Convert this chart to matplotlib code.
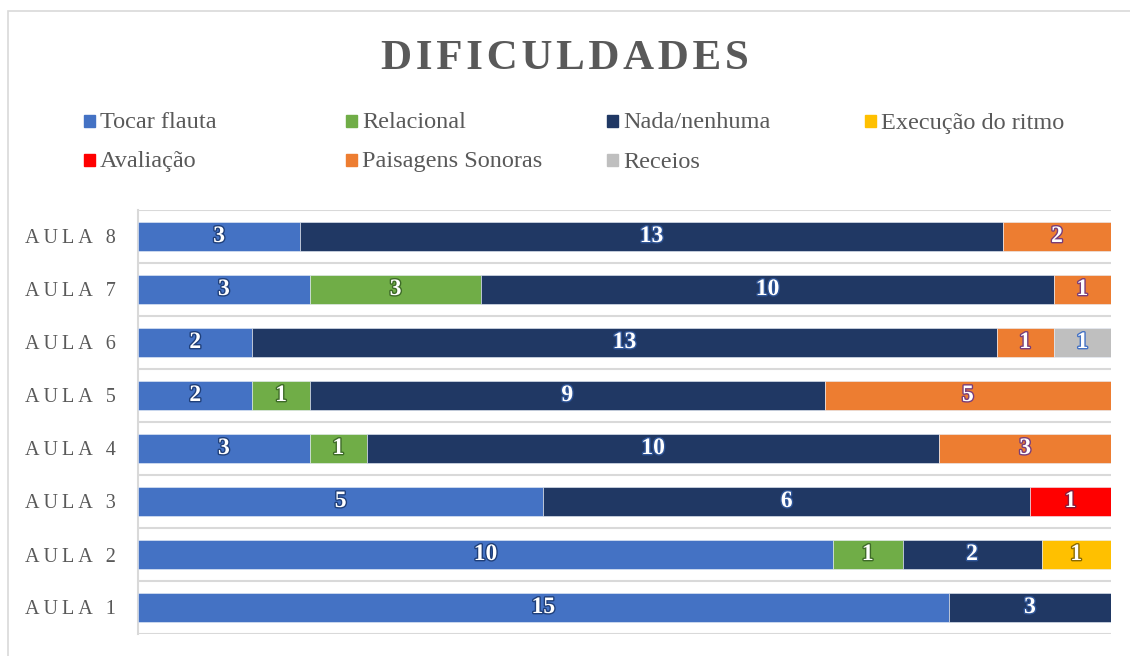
import matplotlib
matplotlib.use("Agg")
from matplotlib import pyplot as plt
from matplotlib.patches import Rectangle
import matplotlib.patheffects as pe
import numpy as np

# categorias (de baixo para cima)
aulas = ["AULA 1", "AULA 2", "AULA 3", "AULA 4", "AULA 5", "AULA 6", "AULA 7", "AULA 8"]

# series
tocar_flauta = [15, 10, 5, 3, 2, 2, 3, 3]
relacional = [0, 1, 0, 1, 1, 0, 3, 0]
nada_nenhuma = [3, 2, 6, 10, 9, 13, 10, 13]
execucao_ritmo = [0, 1, 0, 0, 0, 0, 0, 0]
avaliacao = [0, 0, 1, 0, 0, 0, 0, 0]
paisagens = [0, 0, 0, 3, 5, 1, 1, 2]
receios = [0, 0, 0, 0, 0, 1, 0, 0]

nomes = ["Tocar flauta", "Relacional", "Nada/nenhuma", "Execução do ritmo",
         "Avaliação", "Paisagens Sonoras", "Receios"]
cores = ["#4472C4", "#70AD47", "#203864", "#FFC000", "#FF0000", "#ED7D31", "#BFBFBF"]
contornos = ["#1F3F7A", "#3E6B28", "#2F5597", "#8A6A00", "#8B1A3A", "#7A3E7A", "#4472C4"]

series = [tocar_flauta, relacional, nada_nenhuma, execucao_ritmo, avaliacao, paisagens, receios]
dados = np.array(series, dtype=float)
totais = dados.sum(axis=0)
pct = dados / totais

serif = "Liberation Serif"

fig = plt.figure(figsize=(11.3, 6.56), dpi=100)
ax = fig.add_axes([138 / 1130, 1 - 634 / 656, (1111 - 138) / 1130, (634 - 210) / 656])

y = np.arange(len(aulas))
esquerda = np.zeros(len(aulas))
for i, nome in enumerate(nomes):
    ax.barh(y, pct[i], left=esquerda, height=0.56, color=cores[i],
            edgecolor="#E8EEF8", linewidth=0.4, zorder=3)
    for j in range(len(aulas)):
        v = dados[i][j]
        if v > 0:
            ax.text(esquerda[j] + pct[i][j] / 2, y[j], str(int(v)), ha="center", va="center",
                    color="white", fontsize=17, fontweight="bold", family=serif, zorder=4,
                    path_effects=[pe.withStroke(linewidth=2, foreground=contornos[i])])
    esquerda += pct[i]

ax.set_xlim(0, 1)
ax.set_ylim(-0.5, len(aulas) - 0.5)
ax.set_xticks([])
ax.set_yticks(y)
ax.set_yticklabels(["\u2009".join(a) for a in aulas], family=serif, fontsize=14.5, color="#595959")
ax.tick_params(axis="y", length=0, pad=16)
for b in np.arange(-0.5, len(aulas), 1.0):
    ax.axhline(b, color="#D9D9D9", linewidth=1.5, zorder=1)
for s in ["top", "right", "bottom"]:
    ax.spines[s].set_visible(False)
ax.spines["left"].set_color("#D9D9D9")
ax.spines["left"].set_linewidth(1.5)

# borda do grafico
fig.patches.append(Rectangle((8 / 1130, -0.05), 1.2, 1 - 11 / 656 + 0.05, transform=fig.transFigure,
                             fill=False, edgecolor="#D9D9D9", linewidth=1.2))

fig.text(565 / 1130, 1 - 59 / 656, "\u200a".join("DIFICULDADES"), ha="center", va="center", family=serif,
         fontsize=31, fontweight="bold", color="#595959")

# legenda
pos_x = [84, 346, 607, 865, 84, 346, 607]
pos_y = [121, 121, 121, 121, 160, 160, 160]
for nome, cor, px, py in zip(nomes, cores, pos_x, pos_y):
    fig.patches.append(Rectangle((px / 1130, 1 - (py + 6) / 656), 11 / 1130, 12 / 656,
                                 transform=fig.transFigure, color=cor))
    fig.text((px + 16) / 1130, 1 - (py + 2) / 656, nome, ha="left", va="center", family=serif,
             fontsize=17.5, color="#595959")

plt.savefig("out.png", dpi=100)
